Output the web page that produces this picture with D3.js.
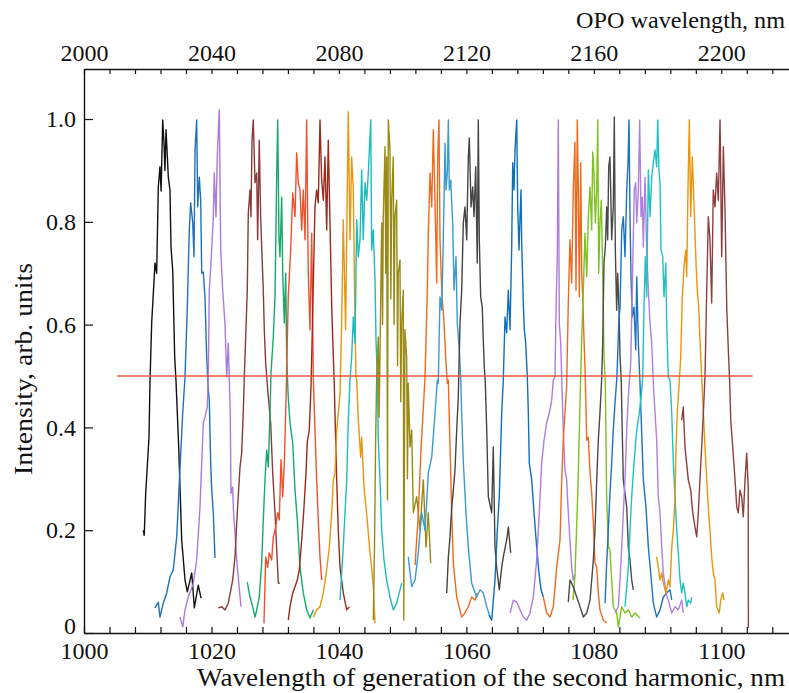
<!DOCTYPE html>
<html><head><meta charset="utf-8">
<script src="https://cdn.jsdelivr.net/npm/d3@7"></script>
<style>
html,body{margin:0;padding:0;background:#fff;}
</style></head>
<body><svg id="chart" width="789" height="693"></svg>
<script>
// ---- data: [wavelength of SHG (nm), intensity (arb. units)] ----
const spec01 = [[1009.30,0.200],[1009.45,0.190],[1009.68,0.272],[1010.20,0.381],[1010.36,0.492],[1010.62,0.603],[1011.14,0.720],[1011.40,0.700],[1011.66,0.868],[1011.92,0.907],[1012.10,0.860],[1012.35,0.998],[1012.55,0.954],[1012.70,0.900],[1012.87,0.979],[1013.23,0.887],[1013.49,0.862],[1013.65,0.751],[1013.92,0.706],[1014.23,0.537],[1014.43,0.492],[1014.86,0.362],[1015.33,0.181],[1015.85,0.103],[1016.21,0.080],[1016.90,0.117],[1017.31,0.049],[1017.93,0.093],[1018.36,0.068]];
const spec02 = [[1011.14,0.049],[1011.66,0.060],[1011.92,0.031],[1012.44,0.058],[1012.98,0.078],[1013.49,0.109],[1014.01,0.123],[1014.55,0.187],[1014.95,0.292],[1015.49,0.428],[1015.85,0.498],[1016.21,0.634],[1016.52,0.784],[1016.74,0.837],[1017.06,0.798],[1017.26,0.732],[1017.42,0.940],[1017.68,0.998],[1017.84,0.829],[1018.09,0.887],[1018.31,0.842],[1018.47,0.700],[1018.72,0.702],[1018.98,0.654],[1019.25,0.537],[1019.50,0.473],[1019.66,0.453],[1019.88,0.331],[1020.04,0.278],[1020.29,0.234],[1020.55,0.146]];
const spec03 = [[1015.06,0.031],[1015.49,0.012],[1015.85,0.045],[1016.36,0.070],[1017.15,0.097],[1017.68,0.142],[1018.20,0.245],[1018.47,0.331],[1018.72,0.409],[1018.98,0.420],[1019.35,0.440],[1019.50,0.498],[1019.66,0.667],[1019.93,0.720],[1020.29,0.810],[1020.44,0.895],[1020.71,0.810],[1020.91,0.926],[1021.23,1.018],[1021.45,0.745],[1021.76,0.667],[1022.12,0.603],[1022.39,0.498],[1022.64,0.564],[1022.80,0.492],[1022.95,0.428],[1023.06,0.272],[1023.33,0.284],[1023.42,0.245],[1023.96,0.142],[1024.63,0.051]];
const spec04 = [[1021.07,0.049],[1021.60,0.051],[1022.12,0.045],[1022.64,0.058],[1023.33,0.103],[1023.69,0.148],[1024.05,0.234],[1024.48,0.323],[1024.74,0.350],[1024.99,0.428],[1025.15,0.498],[1025.37,0.576],[1025.62,0.667],[1025.78,0.817],[1026.05,0.862],[1026.20,0.810],[1026.36,0.959],[1026.56,0.998],[1026.83,0.876],[1027.10,0.895],[1027.25,0.765],[1027.50,0.959],[1027.72,0.810],[1027.88,0.751],[1028.13,0.667],[1028.29,0.590],[1028.51,0.525],[1028.67,0.498],[1028.92,0.459],[1029.29,0.409],[1029.61,0.311],[1029.97,0.234],[1030.24,0.162],[1030.49,0.097],[1030.75,0.097]];
const spec05 = [[1025.62,0.099],[1026.05,0.070],[1026.47,0.051],[1026.83,0.031],[1027.10,0.045],[1027.50,0.070],[1027.88,0.136],[1028.13,0.220],[1028.40,0.298],[1028.67,0.356],[1028.92,0.323],[1029.19,0.428],[1029.34,0.506],[1029.70,0.576],[1029.97,0.654],[1030.24,0.895],[1030.39,0.998],[1030.60,0.765],[1030.75,0.732],[1031.02,0.848],[1031.18,0.700],[1031.43,0.603],[1031.65,0.700],[1031.80,0.537],[1031.96,0.486],[1032.05,0.459],[1032.32,0.409],[1032.75,0.370],[1033.11,0.278],[1033.47,0.220],[1033.89,0.128],[1034.41,0.078],[1034.94,0.045],[1035.46,0.029],[1035.98,0.045]];
const spec06 = [[1028.24,0.019],[1028.51,0.148],[1028.82,0.128],[1029.07,0.156],[1029.45,0.142],[1029.70,0.187],[1030.08,0.206],[1030.39,0.234],[1030.64,0.220],[1030.91,0.337],[1031.18,0.265],[1031.43,0.331],[1031.70,0.453],[1032.05,0.654],[1032.43,0.745],[1032.75,0.856],[1033.11,0.810],[1033.37,0.934],[1033.62,0.876],[1033.89,0.862],[1034.16,0.784],[1034.41,0.862],[1034.68,0.765],[1034.94,0.998],[1035.19,0.700],[1035.46,0.590],[1035.73,0.778],[1035.98,0.498],[1036.24,0.395],[1036.51,0.298],[1036.76,0.220],[1037.03,0.148],[1037.29,0.103]];
const spec07 = [[1032.05,0.025],[1032.32,0.051],[1032.75,0.078],[1033.11,0.090],[1033.47,0.103],[1033.78,0.123],[1034.16,0.181],[1034.52,0.245],[1034.83,0.311],[1035.04,0.372],[1035.35,0.395],[1035.62,0.479],[1035.73,0.537],[1035.98,0.681],[1036.24,0.829],[1036.51,0.862],[1036.76,0.837],[1037.03,0.998],[1037.29,0.881],[1037.55,0.842],[1037.81,0.926],[1038.08,0.784],[1038.33,0.959],[1038.60,0.798],[1038.87,0.634],[1039.12,0.537],[1039.27,0.486],[1039.38,0.428],[1039.65,0.298],[1039.90,0.200],[1040.17,0.128],[1040.68,0.078],[1041.22,0.045],[1041.63,0.051]];
const spec08 = [[1035.98,0.031],[1036.51,0.045],[1037.03,0.051],[1037.55,0.078],[1038.08,0.123],[1038.49,0.167],[1038.87,0.234],[1039.12,0.298],[1039.38,0.311],[1039.65,0.395],[1039.90,0.428],[1040.17,0.467],[1040.43,0.603],[1040.68,0.804],[1041.05,0.590],[1041.31,0.862],[1041.47,1.014],[1041.74,0.765],[1042.00,0.926],[1042.26,0.862],[1042.52,0.603],[1042.68,0.498],[1042.79,0.492],[1043.04,0.415],[1043.41,0.342],[1043.57,0.381],[1043.93,0.284],[1044.25,0.245],[1044.61,0.195],[1044.87,0.156],[1045.14,0.128],[1045.39,0.090],[1045.66,0.019]];
const spec09 = [[1040.17,0.064],[1040.68,0.167],[1041.22,0.298],[1041.47,0.414],[1041.74,0.492],[1042.00,0.537],[1042.26,0.615],[1042.52,0.564],[1042.79,0.804],[1043.04,0.732],[1043.31,0.765],[1043.57,0.901],[1043.82,0.765],[1044.09,0.876],[1044.36,0.842],[1044.61,0.895],[1044.99,0.998],[1045.14,0.745],[1045.39,0.784],[1045.66,0.687],[1045.82,0.570],[1046.02,0.498],[1046.18,0.375],[1046.44,0.298],[1046.71,0.200],[1047.07,0.142],[1047.49,0.103],[1048.01,0.070],[1048.53,0.045],[1049.06,0.058],[1049.58,0.084],[1049.85,0.097]];
const spec10 = [[1045.39,0.025],[1045.58,0.167],[1045.74,0.356],[1045.92,0.498],[1046.18,0.576],[1046.30,0.420],[1046.44,0.537],[1046.71,0.798],[1046.85,0.600],[1046.96,0.810],[1047.23,0.946],[1047.35,0.700],[1047.49,0.926],[1047.62,0.259],[1047.75,0.998],[1048.01,0.940],[1048.15,0.650],[1048.28,0.842],[1048.53,0.926],[1048.65,0.600],[1048.80,0.810],[1049.06,0.842],[1049.20,0.520],[1049.31,0.700],[1049.58,0.726],[1049.70,0.450],[1049.85,0.603],[1050.10,0.667],[1050.18,0.025],[1050.36,0.590],[1050.63,0.537],[1050.75,0.300],[1050.88,0.486],[1051.15,0.362],[1051.42,0.395],[1051.67,0.234],[1052.20,0.265],[1052.72,0.200],[1053.24,0.298],[1053.66,0.167],[1054.02,0.234],[1054.40,0.136]];
const spec11 = [[1051.94,0.132],[1052.41,0.220],[1052.88,0.356],[1053.51,0.498],[1053.87,0.667],[1054.03,0.778],[1054.29,0.895],[1054.56,0.829],[1054.81,0.979],[1055.08,0.837],[1055.34,0.681],[1055.50,0.926],[1055.70,0.998],[1055.86,0.765],[1056.13,0.667],[1056.49,0.603],[1056.80,0.525],[1057.01,0.486],[1057.17,0.492],[1057.43,0.362],[1057.70,0.234],[1057.95,0.136],[1058.48,0.070],[1059.26,0.031],[1059.78,0.039],[1060.30,0.051],[1060.83,0.070],[1061.35,0.064],[1061.71,0.078]];
const spec12 = [[1050.88,0.148],[1051.42,0.090],[1051.94,0.103],[1052.45,0.156],[1052.99,0.234],[1053.51,0.200],[1054.03,0.311],[1054.56,0.342],[1055.08,0.428],[1055.44,0.492],[1055.59,0.486],[1055.86,0.654],[1056.13,0.628],[1056.38,0.765],[1056.65,0.953],[1056.80,0.862],[1057.01,0.895],[1057.17,0.998],[1057.32,0.862],[1057.54,0.881],[1057.85,0.798],[1058.06,0.667],[1058.37,0.732],[1058.57,0.603],[1058.89,0.551],[1059.11,0.498],[1059.26,0.428],[1059.52,0.331],[1059.94,0.234],[1060.30,0.167],[1060.83,0.097],[1061.62,0.070],[1062.14,0.084],[1062.65,0.078],[1063.19,0.051],[1063.71,0.031]];
const spec13 = [[1056.91,0.078],[1057.17,0.148],[1057.43,0.187],[1057.70,0.245],[1057.95,0.278],[1058.21,0.317],[1058.48,0.395],[1058.73,0.459],[1059.00,0.603],[1059.26,0.667],[1059.52,0.798],[1059.78,0.829],[1060.05,0.765],[1060.30,0.926],[1060.46,0.963],[1060.73,0.829],[1060.99,0.868],[1061.20,0.810],[1061.46,0.907],[1061.71,0.720],[1061.87,0.998],[1062.03,0.765],[1062.24,0.654],[1062.49,0.634],[1062.65,0.570],[1062.81,0.518],[1062.97,0.486],[1063.19,0.395],[1063.44,0.265],[1063.97,0.234],[1064.22,0.362],[1064.49,0.167],[1064.75,0.128],[1065.16,0.084],[1065.54,0.128],[1065.79,0.148],[1066.32,0.181],[1066.58,0.206],[1066.95,0.156]];
const spec14 = [[1063.55,0.035],[1063.97,0.025],[1064.49,0.103],[1064.85,0.200],[1065.16,0.265],[1065.54,0.428],[1065.79,0.492],[1066.06,0.615],[1066.32,0.584],[1066.58,0.667],[1066.85,0.590],[1067.11,0.751],[1067.27,0.915],[1067.47,0.862],[1067.63,0.940],[1067.90,0.998],[1068.05,0.829],[1068.26,0.745],[1068.42,0.810],[1068.57,0.862],[1068.68,0.759],[1068.93,0.642],[1069.09,0.590],[1069.31,0.564],[1069.56,0.498],[1069.72,0.428],[1069.87,0.331],[1070.25,0.298],[1070.61,0.234],[1071.03,0.167],[1071.39,0.117],[1071.71,0.084],[1072.07,0.070]];
const spec15 = [[1066.85,0.039],[1067.36,0.064],[1067.90,0.060],[1068.42,0.045],[1068.93,0.031],[1069.46,0.025],[1069.98,0.039],[1070.50,0.070],[1071.03,0.142],[1071.44,0.234],[1071.81,0.331],[1072.18,0.375],[1072.60,0.409],[1073.01,0.428],[1073.38,0.453],[1073.64,0.492],[1073.90,0.498],[1074.06,0.628],[1074.26,0.732],[1074.42,0.998],[1074.58,0.603],[1074.80,0.564],[1074.96,0.498],[1075.20,0.395],[1075.47,0.317],[1075.73,0.298],[1075.99,0.234],[1076.25,0.181],[1076.52,0.128],[1076.77,0.103],[1077.03,0.113]];
const spec16 = [[1072.07,0.070],[1072.60,0.039],[1073.12,0.031],[1073.64,0.051],[1074.17,0.128],[1074.69,0.181],[1074.96,0.298],[1075.20,0.375],[1075.73,0.480],[1075.99,0.642],[1076.25,0.765],[1076.52,0.681],[1076.77,0.862],[1077.03,0.955],[1077.20,0.667],[1077.40,0.998],[1077.56,0.862],[1077.72,0.654],[1077.94,0.915],[1078.10,0.700],[1078.25,0.654],[1078.46,0.570],[1078.66,0.498],[1078.88,0.375],[1079.13,0.381],[1079.40,0.311],[1079.66,0.272],[1079.92,0.214],[1080.18,0.136],[1080.45,0.128],[1080.70,0.078],[1080.96,0.045],[1081.48,0.025],[1082.01,0.019]];
const spec17 = [[1076.73,0.064],[1077.04,0.113],[1077.51,0.284],[1077.83,0.450],[1078.10,0.576],[1078.35,0.667],[1078.61,0.778],[1078.88,0.693],[1079.13,0.810],[1079.40,0.868],[1079.66,0.784],[1079.82,0.936],[1080.02,0.895],[1080.23,0.798],[1080.45,0.862],[1080.61,0.998],[1080.76,0.700],[1080.96,0.798],[1081.17,0.842],[1081.39,0.700],[1081.59,0.537],[1081.80,0.486],[1082.01,0.265],[1082.27,0.167],[1082.53,0.162],[1082.80,0.103],[1083.05,0.051],[1083.58,0.039],[1083.84,0.012],[1084.37,0.051],[1084.89,0.039],[1085.41,0.045],[1085.94,0.031],[1086.46,0.039],[1087.24,0.029]];
const spec18 = [[1075.99,0.060],[1076.25,0.103],[1076.52,0.097],[1076.77,0.090],[1077.31,0.070],[1077.83,0.051],[1078.35,0.031],[1078.88,0.039],[1079.40,0.064],[1079.92,0.142],[1080.18,0.200],[1080.45,0.298],[1080.70,0.375],[1080.96,0.428],[1081.23,0.495],[1081.39,0.564],[1081.59,0.720],[1081.80,0.751],[1082.01,0.829],[1082.17,0.765],[1082.33,0.907],[1082.53,0.926],[1082.80,0.765],[1083.05,0.829],[1083.21,1.004],[1083.37,0.745],[1083.58,0.628],[1083.74,0.700],[1083.95,0.628],[1084.11,0.537],[1084.30,0.490],[1084.45,0.395],[1084.62,0.298],[1085.16,0.245],[1085.41,0.167],[1085.67,0.142],[1085.94,0.103],[1086.19,0.084]];
const spec19 = [[1081.76,0.058],[1082.01,0.136],[1082.27,0.200],[1082.53,0.272],[1082.80,0.331],[1083.05,0.395],[1083.32,0.447],[1083.58,0.492],[1083.68,0.518],[1083.90,0.603],[1084.11,0.634],[1084.37,0.784],[1084.62,0.810],[1084.89,0.732],[1085.16,0.862],[1085.36,0.915],[1085.52,0.998],[1085.67,0.810],[1085.83,0.693],[1086.03,0.615],[1086.30,0.634],[1086.57,0.551],[1086.73,0.693],[1086.98,0.564],[1087.24,0.486],[1087.40,0.428],[1087.76,0.298],[1088.18,0.245],[1088.55,0.167],[1088.92,0.117],[1089.33,0.058],[1089.86,0.031],[1090.38,0.045],[1090.90,0.070],[1091.43,0.078],[1091.95,0.084],[1092.22,0.064]];
const spec20 = [[1083.32,0.039],[1083.84,0.051],[1084.11,0.103],[1084.37,0.167],[1084.62,0.234],[1084.89,0.298],[1085.16,0.395],[1085.41,0.459],[1085.78,0.525],[1086.03,0.667],[1086.19,0.770],[1086.35,0.862],[1086.57,0.876],[1086.73,0.798],[1086.98,0.862],[1087.19,0.998],[1087.40,0.810],[1087.60,0.848],[1087.76,0.751],[1088.03,0.887],[1088.29,0.745],[1088.55,0.667],[1088.81,0.603],[1089.08,0.564],[1089.33,0.486],[1089.60,0.428],[1089.86,0.375],[1090.11,0.265],[1090.38,0.234],[1090.65,0.167],[1090.90,0.117],[1091.32,0.078],[1091.68,0.064],[1092.22,0.039],[1092.74,0.051],[1093.25,0.045],[1093.78,0.064],[1094.03,0.039]];
const spec21 = [[1084.89,0.051],[1085.16,0.090],[1085.41,0.128],[1085.67,0.200],[1085.94,0.265],[1086.30,0.331],[1086.73,0.395],[1087.13,0.428],[1087.51,0.473],[1087.67,0.498],[1087.87,0.634],[1088.08,0.732],[1088.29,0.654],[1088.55,0.901],[1088.81,0.810],[1089.08,0.887],[1089.33,0.915],[1089.60,0.940],[1089.86,0.907],[1090.02,0.998],[1090.23,0.895],[1090.38,0.876],[1090.54,0.745],[1090.81,0.732],[1091.01,0.654],[1091.28,0.720],[1091.43,0.603],[1091.68,0.498],[1091.95,0.492],[1092.22,0.428],[1092.47,0.331],[1092.74,0.265],[1093.00,0.200],[1093.25,0.156],[1093.52,0.103],[1093.78,0.078],[1094.03,0.097],[1094.30,0.078],[1094.57,0.051],[1094.82,0.064],[1095.20,0.058],[1095.35,0.070]];
const spec22 = [[1089.86,0.148],[1090.11,0.128],[1090.38,0.103],[1090.65,0.117],[1090.90,0.097],[1091.32,0.078],[1091.68,0.103],[1091.95,0.090],[1092.22,0.167],[1092.47,0.200],[1092.74,0.265],[1092.89,0.362],[1093.09,0.428],[1093.41,0.492],[1093.63,0.537],[1093.88,0.654],[1094.14,0.712],[1094.41,0.745],[1094.57,0.693],[1094.77,0.862],[1094.98,0.998],[1095.20,0.810],[1095.44,0.926],[1095.60,0.876],[1095.87,0.778],[1096.03,0.720],[1096.23,0.667],[1096.45,0.634],[1096.65,0.570],[1096.92,0.498],[1097.44,0.362],[1097.71,0.298],[1097.96,0.245],[1098.22,0.200],[1098.49,0.148],[1098.74,0.117],[1099.01,0.103],[1099.27,0.051],[1099.68,0.039],[1099.90,0.064],[1100.22,0.078],[1100.42,0.064]];
const spec23 = [[1093.78,0.414],[1094.03,0.440],[1094.30,0.362],[1094.82,0.298],[1095.20,0.278],[1095.51,0.234],[1095.87,0.206],[1096.14,0.187],[1096.39,0.234],[1096.65,0.298],[1096.92,0.362],[1097.18,0.428],[1097.44,0.500],[1097.71,0.667],[1097.96,0.810],[1098.22,0.765],[1098.49,0.642],[1098.74,0.862],[1099.01,0.829],[1099.27,0.895],[1099.53,0.842],[1099.80,0.998],[1100.06,0.732],[1100.32,0.946],[1100.58,0.823],[1100.85,0.634],[1101.10,0.551],[1101.30,0.492],[1101.48,0.414],[1101.79,0.362],[1102.15,0.298],[1102.42,0.245],[1102.67,0.234],[1102.93,0.278],[1103.20,0.265],[1103.45,0.226],[1103.72,0.298],[1103.98,0.350],[1104.22,0.284],[1104.25,0.010]];
const spectra = [spec01,spec02,spec03,spec04,spec05,spec06,spec07,spec08,spec09,spec10,spec11,spec12,spec13,spec14,spec15,spec16,spec17,spec18,spec19,spec20,spec21,spec22,spec23];
const spectrumColors = ["#111111","#1f72b8","#a97bdd","#8b3a3a","#17a86b","#f0502e","#9a2a1c","#e8950f","#1cbcbc","#9a8a14","#ef6a1e","#3b9ad0","#444444","#0f6fbd","#ab7ddf","#ee6a20","#7dc21e","#4a4a4a","#1e72c0","#ae80e0","#22c0c0","#e8960e","#8e3e3e"];
const halfMaxLevel = [[1005.2,0.5],[1104.9,0.5]];
const bottomTicks = d3.range(1000, 1111, 4);
const bottomLabels = [1000,1020,1040,1060,1080,1100];
const topTicks = d3.range(2000, 2221, 8);
const topLabels = [2000,2040,2080,2120,2160,2200];
const yTicks = [0,0.2,0.4,0.6,0.8,1.0];
const yTickLabels = ["0","0.2","0.4","0.6","0.8","1.0"];

// ---- layout ----
const FONT = "Liberation Serif";
const svg = d3.select("#chart");
const L = 84, R = 789, T = 69, B = 633;
const x = d3.scaleLinear().domain([1000, 1110.62]).range([L, R]);
const xTop = d3.scaleLinear().domain([2000, 2221.24]).range([L, R]);
const y = d3.scaleLinear().domain([0, 1.0973]).range([B, T]);

const line = d3.line().x(d => x(d[0])).y(d => y(d[1]));
const g = svg.append("g");
spectra.forEach((s, i) => {
  g.append("path").datum(s).attr("d", line)
    .attr("fill", "none").attr("stroke", spectrumColors[i])
    .attr("stroke-width", 1.4).attr("stroke-linejoin", "round");
});
g.append("path").datum(halfMaxLevel).attr("d", line)
  .attr("fill","none").attr("stroke","#e9583c").attr("stroke-width",1.5);

function styleAxis(sel){
  sel.attr("font-family", FONT).attr("font-size", 24);
  sel.selectAll("path.domain").attr("stroke","#111").attr("stroke-width",1.4);
  sel.selectAll(".tick line").attr("stroke","#111").attr("stroke-width",1.2);
  sel.selectAll("text").attr("fill","#111").attr("font-family", FONT).attr("font-size", 24);
}
const axB = svg.append("g").attr("transform",`translate(0,${B})`)
  .call(d3.axisBottom(x).tickValues(bottomTicks).tickSizeInner(-6).tickSizeOuter(0).tickPadding(9)
    .tickFormat(d => bottomLabels.includes(d) ? String(d) : ""));
styleAxis(axB);
const axT = svg.append("g").attr("transform",`translate(0,${T})`)
  .call(d3.axisTop(xTop).tickValues(topTicks).tickSizeInner(-5).tickSizeOuter(0).tickPadding(8)
    .tickFormat(d => topLabels.includes(d) ? String(d) : ""));
styleAxis(axT);
const axL = svg.append("g").attr("transform",`translate(${L},0)`)
  .call(d3.axisLeft(y).tickValues(yTicks).tickSizeInner(-9).tickSizeOuter(0).tickPadding(8)
    .tickFormat((d,i) => yTickLabels[i]));
styleAxis(axL);
axL.selectAll(".tick text").filter(d => d === 0).attr("dy","0em");

svg.append("text").attr("x",785).attr("y",28).attr("text-anchor","end")
  .attr("font-family",FONT).attr("font-size",24).attr("fill","#111")
  .attr("textLength",209).attr("lengthAdjust","spacingAndGlyphs").text("OPO wavelength, nm");
svg.append("text").attr("x",785).attr("y",686).attr("text-anchor","end")
  .attr("font-family",FONT).attr("font-size",25).attr("fill","#111")
  .attr("textLength",588).attr("lengthAdjust","spacingAndGlyphs")
  .text("Wavelength of generation of the second harmonic, nm");
svg.append("text").attr("transform","translate(32,369) rotate(-90)").attr("text-anchor","middle")
  .attr("font-family",FONT).attr("font-size",25).attr("fill","#111")
  .attr("textLength",212).attr("lengthAdjust","spacingAndGlyphs")
  .text("Intensity, arb. units");
</script></body></html>
